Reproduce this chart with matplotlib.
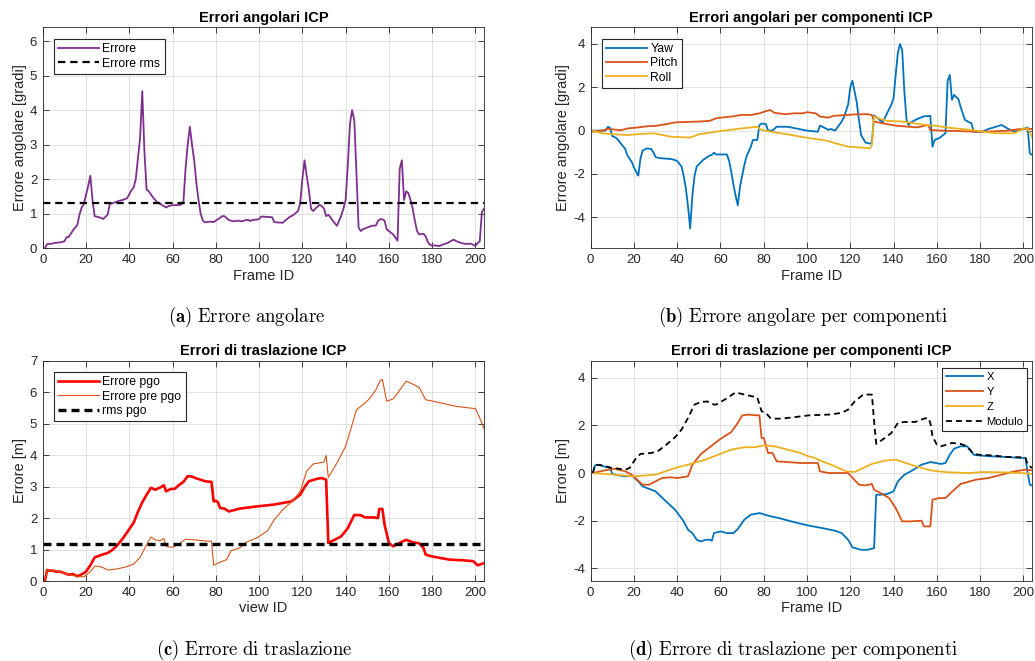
import matplotlib
matplotlib.use("Agg")
import matplotlib.pyplot as plt

plt.rcParams["font.family"] = ["Liberation Sans", "DejaVu Sans"]
plt.rcParams["mathtext.fontset"] = "cm"
plt.rcParams["axes.unicode_minus"] = False

# --- (a) errore angolare ---
ang_x = [1, 2, 4, 6, 8, 10, 11, 12, 14, 16, 17, 18, 19, 20, 21, 22, 23, 24, 26, 28, 30, 31, 33, 35, 37, 39,
         41, 42, 43, 44, 45, 46, 47, 48, 49, 51, 53, 55, 57, 58, 60, 63, 64, 65, 66, 67, 68, 69, 70, 71, 72,
         73, 74, 75, 77, 79, 81, 83, 84, 86, 88, 90, 92, 94, 95, 96, 97, 99, 100, 101, 103, 106, 107, 108,
         111, 112, 114, 116, 118, 119, 120, 121, 122, 123, 124, 125, 126, 128, 129, 130, 131, 132, 133, 134,
         136, 137, 138, 139, 140, 141, 142, 143, 144, 145, 146, 147, 148, 150, 152, 154, 155, 156, 157, 158,
         159, 160, 162, 164, 165, 166, 167, 168, 169, 170, 171, 172, 173, 174, 176, 177, 178, 179, 180, 182,
         183, 185, 187, 189, 190, 191, 193, 195, 198, 199, 200, 201, 202, 203, 204]
ang_err = [0.0, 0.12, 0.13, 0.16, 0.17, 0.2, 0.32, 0.33, 0.52, 0.68, 0.98, 1.18, 1.28, 1.55, 1.8, 2.1, 1.4,
           0.93, 0.9, 0.85, 0.97, 1.28, 1.32, 1.37, 1.4, 1.45, 1.68, 1.76, 2.0, 2.6, 3.2, 4.55, 2.8, 1.7,
           1.65, 1.47, 1.33, 1.26, 1.18, 1.22, 1.25, 1.25, 1.27, 1.32, 2.3, 3.0, 3.52, 3.0, 2.55, 1.9, 1.4,
           1.0, 0.8, 0.75, 0.77, 0.76, 0.84, 0.93, 0.93, 0.82, 0.78, 0.8, 0.78, 0.82, 0.82, 0.79, 0.82, 0.83,
           0.85, 0.92, 0.91, 0.9, 0.76, 0.75, 0.74, 0.8, 0.9, 0.97, 1.08, 1.3, 2.0, 2.55, 2.1, 1.7, 1.15,
           1.08, 1.15, 1.26, 1.22, 1.15, 0.93, 0.97, 0.9, 0.8, 0.65, 0.8, 0.95, 1.15, 1.4, 2.4, 3.6, 4.0,
           3.72, 2.2, 0.6, 0.5, 0.55, 0.6, 0.65, 0.66, 0.8, 0.84, 0.84, 0.8, 0.55, 0.5, 0.4, 0.22, 2.3,
           2.55, 1.4, 1.65, 1.6, 1.4, 1.15, 0.8, 0.5, 0.4, 0.42, 0.35, 0.18, 0.1, 0.08, 0.08, 0.06, 0.11,
           0.15, 0.22, 0.25, 0.21, 0.16, 0.13, 0.13, 0.1, 0.07, 0.15, 0.2, 1.05, 1.15]
ang_rms = 1.3

# --- (b) yaw / pitch / roll ---
yaw_x = [1, 6, 7, 8, 9, 10, 12, 14, 16, 17, 19, 20, 22, 23, 24, 26, 28, 29, 30, 32, 36, 38, 40, 42, 43, 44,
         45, 46, 47, 48, 49, 52, 55, 56, 57, 58, 63, 64, 65, 66, 67, 68, 69, 70, 71, 72, 74, 75, 77, 78, 79,
         80, 81, 82, 84, 86, 91, 97, 100, 105, 106, 108, 110, 111, 113, 116, 117, 119, 120, 121, 122, 123,
         124, 125, 127, 129, 130, 131, 133, 135, 137, 139, 140, 141, 142, 143, 144, 145, 146, 147, 148, 151,
         154, 157, 158, 159, 161, 164, 165, 166, 167, 168, 170, 171, 173, 175, 176, 177, 181, 184, 190, 193,
         196, 201, 202, 203, 204]
yaw = [0.0, 0.0, 0.02, 0.18, 0.12, -0.25, -0.35, -0.6, -0.85, -1.15, -1.45, -1.7, -2.08, -1.3, -0.92, -0.82,
       -0.85, -1.0, -1.22, -1.27, -1.3, -1.33, -1.4, -1.66, -2.1, -2.66, -3.5, -4.52, -3.0, -2.1, -1.66,
       -1.35, -1.15, -1.12, -1.02, -1.1, -1.1, -1.4, -1.9, -2.5, -3.0, -3.45, -2.6, -2.1, -1.6, -1.2, -0.75,
       -0.43, -0.43, 0.26, 0.32, 0.32, 0.3, 0.0, 0.0, 0.18, 0.18, 0.06, 0.0, -0.05, 0.23, 0.14, 0.03, 0.08,
       0.0, 0.42, 0.6, 1.2, 2.0, 2.3, 1.8, 1.3, 0.5, -0.2, -0.55, -0.6, -0.55, 0.7, 0.55, 0.38, 0.8, 1.2,
       1.5, 2.57, 3.6, 4.0, 3.72, 1.8, 0.5, 0.26, 0.38, 0.54, 0.66, 0.68, -0.74, -0.43, -0.35, -0.12, 2.3,
       2.57, 1.42, 1.65, 1.45, 1.1, 0.5, 0.38, 0.35, -0.05, -0.05, 0.08, 0.26, 0.08, -0.05, 0.11, 0.15,
       -1.05, -1.12]
pitch_x = [1, 5, 8, 11, 14, 17, 22, 26, 30, 35, 39, 44, 50, 55, 58, 62, 66, 70, 74, 78, 81, 83, 85, 90, 94,
           98, 100, 104, 106, 110, 112, 118, 122, 128, 130, 131, 136, 141, 147, 151, 154, 156, 157, 162,
           170, 178, 185, 193, 199, 204]
pitch = [-0.05, 0.0, 0.08, 0.05, 0.02, 0.1, 0.15, 0.2, 0.22, 0.3, 0.38, 0.4, 0.42, 0.45, 0.57, 0.62, 0.66,
         0.73, 0.72, 0.8, 0.9, 0.95, 0.82, 0.76, 0.8, 0.8, 0.85, 0.8, 0.65, 0.6, 0.68, 0.72, 0.75, 0.76,
         0.72, 0.42, 0.32, 0.23, 0.18, 0.15, 0.22, 0.26, 0.03, 0.0, -0.02, -0.05, -0.04, 0.0, 0.08, 0.08]
roll_x = [1, 5, 11, 17, 24, 29, 33, 37, 46, 50, 56, 60, 68, 77, 79, 85, 91, 97, 102, 107, 110, 113, 119,
          125, 129, 130, 131, 134, 137, 144, 153, 157, 159, 165, 176, 187, 196, 200, 202, 204]
roll = [0.0, -0.12, -0.17, -0.2, -0.15, -0.12, -0.2, -0.28, -0.32, -0.17, -0.08, -0.02, 0.08, 0.18, 0.03,
        -0.08, -0.17, -0.28, -0.36, -0.43, -0.48, -0.58, -0.74, -0.78, -0.82, -0.66, 0.65, 0.54, 0.45, 0.42,
        0.29, 0.23, 0.23, 0.14, 0.03, -0.12, -0.12, 0.11, 0.1, -0.28]

# --- (c) errore di traslazione ---
pgo_x = [1, 2, 3, 5, 6, 8, 10, 12, 14, 16, 17, 19, 20, 22, 24, 26, 28, 30, 32, 34, 37, 40, 42, 44, 46, 48,
         50, 52, 54, 56, 57, 59, 61, 63, 65, 67, 69, 71, 73, 75, 78, 79, 80, 81, 82, 84, 86, 91, 99, 107,
         115, 119, 121, 123, 127, 129, 131, 132, 134, 138, 141, 144, 147, 149, 153, 155, 155.5, 157, 158,
         160, 162, 164, 168, 171, 174, 176, 177, 180, 184, 188, 194, 199, 201, 202, 204]
pgo = [0.0, 0.35, 0.33, 0.33, 0.3, 0.3, 0.25, 0.2, 0.22, 0.15, 0.18, 0.25, 0.3, 0.5, 0.75, 0.8, 0.85, 0.89,
       0.98, 1.1, 1.35, 1.65, 1.85, 2.2, 2.5, 2.74, 2.96, 2.9, 2.96, 3.04, 2.85, 2.92, 2.93, 3.05, 3.15,
       3.33, 3.32, 3.26, 3.22, 3.17, 3.15, 2.53, 2.55, 2.5, 2.32, 2.3, 2.21, 2.3, 2.37, 2.43, 2.53, 2.74,
       2.98, 3.17, 3.25, 3.27, 3.22, 1.21, 1.28, 1.42, 1.68, 2.1, 2.09, 2.02, 2.02, 2.0, 2.29, 2.29, 1.79,
       1.21, 1.1, 1.18, 1.31, 1.23, 1.2, 1.05, 0.84, 0.78, 0.73, 0.68, 0.66, 0.63, 0.5, 0.52, 0.57]
pre_x = [1, 2, 5, 8, 12, 16, 19, 20, 22, 24, 26, 28, 30, 34, 38, 42, 45, 48, 50, 52, 54, 56, 57, 60, 63, 66,
         70, 74, 78, 79, 82, 85, 87, 91, 94, 99, 104, 107, 111, 116, 119, 122, 125, 130, 131, 132, 136, 140,
         143, 145, 148, 151, 154, 156, 157, 159, 162, 164, 168, 170, 174, 177, 184, 191, 197, 200, 202, 204]
pre_pgo = [0.0, 0.35, 0.33, 0.3, 0.2, 0.15, 0.13, 0.18, 0.3, 0.47, 0.47, 0.42, 0.35, 0.38, 0.44, 0.54, 0.75,
           1.15, 1.4, 1.31, 1.28, 1.35, 1.1, 1.07, 1.18, 1.33, 1.31, 1.28, 1.26, 0.5, 0.6, 0.68, 0.96, 1.05,
           1.23, 1.37, 1.6, 1.95, 2.27, 2.58, 2.85, 3.49, 3.72, 3.78, 3.99, 3.29, 3.75, 4.28, 4.97, 5.44, 5.6,
           5.79, 6.08, 6.37, 6.4, 5.71, 5.79, 5.97, 6.35, 6.29, 6.15, 5.76, 5.66, 5.55, 5.5, 5.48, 5.18, 4.84]
pgo_rms = 1.18

# --- (d) componenti traslazione ---
tx_x = [1, 2, 4, 6, 9, 10, 13, 16, 19, 22, 24, 30, 34, 39, 43, 45, 47, 49, 51, 53, 55, 56, 57, 60, 63, 66,
        68, 71, 74, 78, 82, 87, 94, 101, 107, 113, 116, 119, 121, 125, 128, 131, 132, 134, 137, 140, 142,
        145, 148, 153, 157, 162, 164, 166, 168, 171, 174, 177, 179, 185, 193, 199, 201, 202, 203, 204]
tx = [0.0, 0.32, 0.35, 0.28, 0.21, -0.04, -0.1, -0.14, -0.1, -0.35, -0.56, -0.77, -1.12, -1.54, -2.03,
      -2.38, -2.52, -2.8, -2.87, -2.8, -2.8, -2.84, -2.52, -2.45, -2.52, -2.52, -2.35, -1.96, -1.75, -1.68,
      -1.79, -1.89, -2.06, -2.21, -2.31, -2.42, -2.52, -2.8, -3.12, -3.22, -3.22, -3.15, -0.91, -0.91,
      -0.88, -0.77, -0.35, -0.07, 0.07, 0.35, 0.46, 0.38, 0.42, 0.77, 1.02, 1.12, 1.12, 0.77, 0.74, 0.7,
      0.67, 0.63, 0.63, 0.0, -0.49, -0.52]
ty_x = [1, 6, 11, 16, 19, 22, 24, 27, 30, 33, 37, 40, 45, 47, 51, 56, 60, 65, 68, 70, 73, 76, 78, 79, 80,
        82, 84, 86, 91, 97, 105, 106, 110, 119, 124, 127, 130, 131, 134, 138, 141, 144, 147, 153, 154, 157,
        158, 161, 164, 168, 171, 178, 184, 190, 196, 201, 204]
ty = [0.0, 0.1, 0.18, 0.07, -0.07, -0.32, -0.49, -0.49, -0.35, -0.21, -0.18, -0.21, -0.14, 0.35, 0.8, 1.15,
      1.43, 1.72, 2.1, 2.41, 2.45, 2.42, 2.42, 1.47, 1.47, 0.84, 0.84, 0.49, 0.46, 0.42, 0.42, 0.07, 0.0,
      0.0, -0.49, -0.52, -0.46, -0.7, -0.84, -1.05, -1.47, -2.03, -2.03, -2.0, -2.24, -2.24, -1.12, -1.05,
      -1.05, -0.7, -0.46, -0.28, -0.21, -0.07, 0.07, 0.14, 0.11]
tz_x = [1, 11, 20, 30, 39, 45, 53, 59, 65, 71, 76, 80, 85, 91, 97, 100, 103, 107, 113, 118, 122, 126, 130,
        136, 141, 147, 153, 158, 165, 175, 181, 190, 199, 204]
tz = [0.0, -0.07, -0.14, -0.07, 0.21, 0.35, 0.56, 0.77, 0.98, 1.08, 1.08, 1.16, 1.12, 0.98, 0.84, 0.72,
      0.65, 0.49, 0.28, 0.07, 0.04, 0.21, 0.38, 0.52, 0.56, 0.38, 0.21, 0.1, 0.03, 0.0, 0.04, 0.03, 0.0,
      -0.04]
mod_x = [1, 2, 5, 10, 13, 16, 18, 21, 23, 28, 31, 35, 39, 42, 45, 48, 51, 54, 57, 58, 62, 67, 71, 77, 79,
         81, 83, 85, 88, 94, 101, 110, 116, 119, 122, 126, 130, 131, 132, 136, 139, 142, 145, 150, 154, 156,
         157, 158, 160, 162, 167, 171, 174, 177, 179, 185, 193, 199, 201, 202, 204]
modulo = [0.0, 0.35, 0.32, 0.21, 0.18, 0.14, 0.21, 0.63, 0.8, 0.84, 0.91, 1.19, 1.5, 1.82, 2.31, 2.87, 2.98,
          3.0, 2.87, 2.87, 3.08, 3.38, 3.29, 3.17, 2.59, 2.52, 2.31, 2.28, 2.28, 2.34, 2.42, 2.45, 2.52,
          2.66, 3.0, 3.29, 3.29, 2.17, 1.22, 1.47, 1.68, 2.1, 2.14, 2.14, 2.28, 2.31, 2.1, 1.54, 1.19, 1.12,
          1.26, 1.22, 1.12, 0.8, 0.77, 0.74, 0.67, 0.66, 0.63, 0.35, 0.21]

BLUE, ORANGE, YELLOW, PURPLE = "#0072BD", "#D95319", "#EDB120", "#7E2F8E"
DARK = "#262626"


def _style(ax, title, xlabel, ylabel, ylim, yticks):
    ax.set_xlim(0, 204)
    ax.set_ylim(*ylim)
    ax.set_xticks(range(0, 201, 20))
    ax.set_yticks(yticks)
    ax.grid(True, color="#dcdcdc", linewidth=0.6)
    ax.set_axisbelow(True)
    ax.tick_params(direction="in", length=4, width=0.6, top=True, right=True,
                   labelsize=9.5, colors=DARK, pad=4)
    for s in ax.spines.values():
        s.set_color(DARK)
        s.set_linewidth(0.6)
    ax.set_title(title, fontsize=10.5, fontweight="bold", pad=4)
    ax.set_xlabel(xlabel, fontsize=10.5, color=DARK, labelpad=2)
    ax.set_ylabel(ylabel, fontsize=10.5, color=DARK, labelpad=2)


def _legend(ax, loc, anchor, size=8.8, spacing=0.2):
    leg = ax.legend(loc=loc, bbox_to_anchor=anchor, borderaxespad=0, fontsize=size,
                    fancybox=False, framealpha=1, edgecolor=DARK, handlelength=3.3,
                    handletextpad=0.3, labelspacing=spacing, borderpad=0.35)
    leg.get_frame().set_linewidth(0.8)


fig = plt.figure(figsize=(10.35, 6.61), dpi=100)
ax_a = fig.add_axes([0.0413, 0.6244, 0.4264, 0.3343])
ax_b = fig.add_axes([0.5707, 0.6244, 0.4264, 0.3343])
ax_c = fig.add_axes([0.0413, 0.1210, 0.4264, 0.3333])
ax_d = fig.add_axes([0.5707, 0.1210, 0.4264, 0.3333])

# (a)
ax_a.plot(ang_x, ang_err, color=PURPLE, lw=1.3, label="Errore")
ax_a.axhline(ang_rms, color="black", lw=1.6, dashes=(3.3, 2.2), label="Errore rms")
_style(ax_a, "Errori angolari ICP", "Frame ID", "Errore angolare [gradi]", (0, 6.4), range(0, 7))
_legend(ax_a, "upper left", (0.026, 0.947))

# (b)
ax_b.plot(yaw_x, yaw, color=BLUE, lw=1.3, label="Yaw")
ax_b.plot(pitch_x, pitch, color=ORANGE, lw=1.3, label="Pitch")
ax_b.plot(roll_x, roll, color=YELLOW, lw=1.3, label="Roll")
_style(ax_b, "Errori angolari per componenti ICP", "Frame ID", "Errore angolare [gradi]",
       (-5.43, 4.77), [-4, -2, 0, 2, 4])
_legend(ax_b, "upper left", (0.026, 0.949))

# (c)
ax_c.plot(pgo_x, pgo, color="#FF0000", lw=1.9, label="Errore pgo")
ax_c.plot(pre_x, pre_pgo, color=ORANGE, lw=0.8, label="Errore pre pgo")
ax_c.axhline(pgo_rms, color="black", lw=2.4, dashes=(2.4, 1.5), label="rms pgo")
_style(ax_c, "Errori di traslazione ICP", "view ID", "Errore [m]", (0, 7), range(0, 8))
_legend(ax_c, "upper left", (0.026, 0.949))

# (d)
ax_d.plot(tx_x, tx, color=BLUE, lw=1.3, label="X")
ax_d.plot(ty_x, ty, color=ORANGE, lw=1.3, label="Y")
ax_d.plot(tz_x, tz, color=YELLOW, lw=1.3, label="Z")
ax_d.plot(mod_x, modulo, color="black", lw=1.3, dashes=(3.3, 2.2), label="Modulo")
_style(ax_d, "Errori di traslazione per componenti ICP", "Frame ID", "Errore [m]",
       (-4.53, 4.71), [-4, -2, 0, 2, 4])
_legend(ax_d, "upper right", (0.989, 0.967), size=8.1, spacing=0.45)

# sub-captions
captions = [(247, 317, "a", "Errore\\ angolare"),
            (803, 317, "b", "Errore\\ angolare\\ per\\ componenti"),
            (254, 650, "c", "Errore\\ di\\ traslazione"),
            (793, 650, "d", "Errore\\ di\\ traslazione\\ per\\ componenti")]
for cx, cy, lab, txt in captions:
    fig.text(cx / 1035, 1 - cy / 661, r"$\mathbf{(%s)}\ \mathrm{%s}$" % (lab, txt),
             ha="center", va="center", fontsize=13.5)

fig.savefig("out.png", dpi=100)
